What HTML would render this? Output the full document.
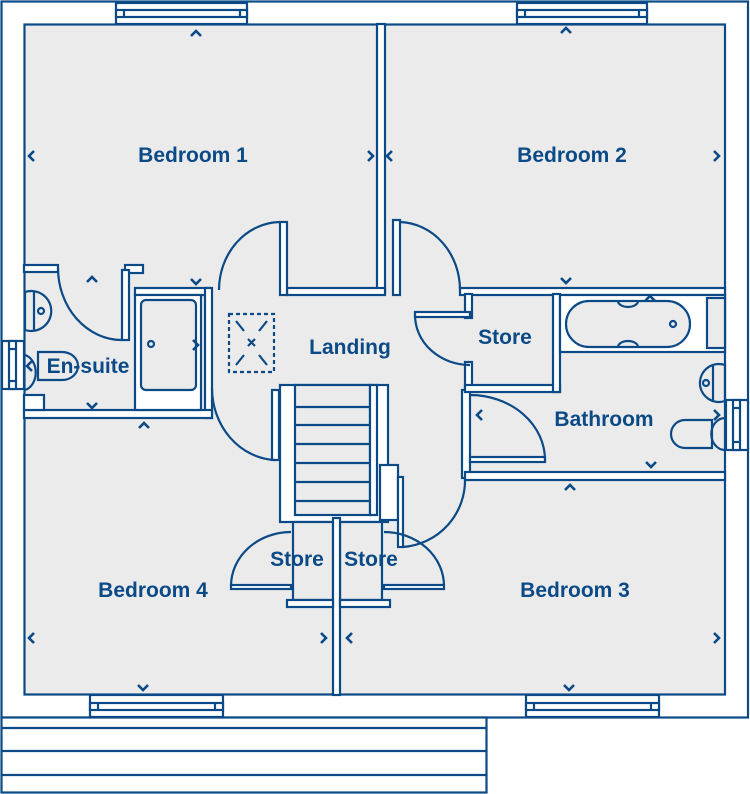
<!DOCTYPE html>
<html><head><meta charset="utf-8"><style>
html,body{margin:0;padding:0;background:#fff}
svg{display:block}
text{font-family:"Liberation Sans",sans-serif;font-weight:bold;font-size:21px;fill:#0b4a86;text-anchor:middle}
</style></head><body>
<svg width="750" height="794" viewBox="0 0 750 794" xmlns="http://www.w3.org/2000/svg">
<g stroke="#0b4a86" stroke-width="2.2" fill="#fff">
<rect x="1.5" y="1.5" width="746.5" height="716"/>
<rect x="24.5" y="24.5" width="700.5" height="670" fill="#ebebeb"/>
<rect x="1.5" y="717.5" width="485" height="75"/>
<line x1="1.5" y1="728" x2="486.5" y2="728"/>
<line x1="1.5" y1="751" x2="486.5" y2="751"/>
<line x1="1.5" y1="775" x2="486.5" y2="775"/>
<rect x="116" y="3" width="131" height="21"/><rect x="116" y="10" width="131" height="7"/><line x1="124" y1="10" x2="124" y2="17"/><line x1="240" y1="10" x2="240" y2="17"/>
<rect x="517" y="3" width="130" height="21"/><rect x="517" y="10" width="130" height="7"/><line x1="525" y1="10" x2="525" y2="17"/><line x1="639" y1="10" x2="639" y2="17"/>
<rect x="90" y="695" width="133" height="22"/><rect x="90" y="703" width="133" height="7"/><line x1="98" y1="703" x2="98" y2="710"/><line x1="215" y1="703" x2="215" y2="710"/>
<rect x="526" y="695" width="133" height="22"/><rect x="526" y="703" width="133" height="7"/><line x1="534" y1="703" x2="534" y2="710"/><line x1="651" y1="703" x2="651" y2="710"/>
<rect x="2" y="341" width="22" height="48"/><rect x="9" y="341" width="7" height="48"/><line x1="9" y1="349" x2="16" y2="349"/><line x1="9" y1="381" x2="16" y2="381"/>
<rect x="726" y="400" width="22" height="50"/><rect x="733" y="400" width="7" height="50"/><line x1="733" y1="408" x2="740" y2="408"/><line x1="733" y1="442" x2="740" y2="442"/>
<rect x="377" y="24" width="8" height="269"/>
<rect x="287" y="288" width="98" height="7"/>
<rect x="460" y="288" width="265" height="7"/>
<rect x="280" y="222" width="7" height="73"/>
<rect x="393" y="220" width="7" height="75"/>
<rect x="24" y="265" width="34" height="7"/>
<rect x="125" y="265" width="18" height="8"/>
<rect x="122" y="270" width="7" height="70"/>
<rect x="135" y="288" width="75" height="7"/>
<rect x="205" y="288" width="7" height="130"/>
<rect x="24" y="410" width="188" height="8"/>
<rect x="24" y="395" width="20" height="15"/>
<rect x="135" y="295" width="66" height="115"/>
<rect x="141" y="300" width="55" height="90" rx="5" fill="#ebebeb"/>
<rect x="272" y="390" width="7" height="70"/>
<rect x="280" y="385" width="108" height="137"/>
<rect x="295" y="385" width="75" height="130" fill="#ebebeb"/>
<rect x="370" y="385" width="7" height="130"/>
<rect x="380" y="465" width="18" height="55"/>
<rect x="293" y="522" width="40" height="78" fill="#ebebeb"/>
<rect x="340" y="522" width="42" height="78" fill="#ebebeb"/>
<rect x="333" y="518" width="7" height="177"/>
<rect x="287" y="600" width="46" height="7"/>
<rect x="340" y="600" width="50" height="7"/>
<rect x="231" y="585" width="60" height="4"/>
<rect x="384" y="585" width="60" height="4"/>
<rect x="398" y="477" width="5" height="70"/>
<rect x="462" y="390" width="8" height="88"/>
<rect x="465" y="294" width="7" height="24"/>
<rect x="465" y="362" width="7" height="28"/>
<rect x="465" y="385" width="95" height="7"/>
<rect x="553" y="294" width="7" height="98"/>
<rect x="415" y="312" width="55" height="5"/>
<rect x="470" y="457" width="75" height="5"/>
<rect x="465" y="472" width="260" height="8"/>
<rect x="560" y="295" width="165" height="57"/>
<rect x="707" y="298" width="18" height="50" fill="#ebebeb"/>
<rect x="566" y="301" width="124" height="46" rx="23" fill="#ebebeb"/>
</g>
<g stroke="#0b4a86" stroke-width="2.2" fill="none">
<line x1="296" y1="407" x2="370" y2="407"/><line x1="296" y1="425" x2="370" y2="425"/>
<line x1="296" y1="444" x2="370" y2="444"/><line x1="296" y1="463" x2="370" y2="463"/>
<line x1="296" y1="482" x2="370" y2="482"/><line x1="296" y1="501" x2="370" y2="501"/>
<path d="M219,290 A62,68 0 0 1 280,222"/>
<path d="M460,290 A62,68 0 0 0 400,222"/>
<path d="M58,268 A64,72 0 0 0 122,340"/>
<path d="M212,388 A66,72 0 0 0 275,460"/>
<path d="M231,586 A60,54 0 0 1 291,532"/>
<path d="M444,586 A60,54 0 0 0 384,532"/>
<path d="M465,478 A67,67 0 0 1 403,547"/>
<path d="M415,315 A55,50 0 0 0 470,365"/>
<path d="M545,460 A75,65 0 0 0 470,395"/>
<path d="M25,292 A20,20 0 1 1 25,330 Z"/>
<line x1="34" y1="292" x2="34" y2="330"/>
<circle cx="41" cy="311" r="3"/>
<path d="M25,355 A14,18 0 0 1 25,390"/>
<path d="M38,352 L62,352 A16,14 0 0 1 62,380 L38,380 Z"/>
<circle cx="151" cy="344" r="3"/>
<path d="M725,365 A19,19 0 1 0 725,401 Z"/>
<line x1="713" y1="366" x2="713" y2="400"/>
<circle cx="706" cy="383" r="3"/>
<path d="M712,420 L685,420 A14,14 0 0 0 685,448 L712,448 Z"/>
<path d="M725,418 A12,14 0 0 0 725,450"/>
<circle cx="673" cy="324" r="3"/>
<path d="M618,301 A10,6 0 0 0 638,301"/><path d="M618,347 A10,6 0 0 1 638,347"/>
<rect x="229" y="314" width="45" height="58" stroke-dasharray="4,3"/>
<path d="M236,321 L244,331 M267,321 L259,331 M236,365 L244,355 M267,365 L259,355 M248,339 L255,346 M255,339 L248,346"/>
</g>
<g stroke="#0b4a86" stroke-width="2.6" fill="none">
<path d="M191,36 l5,-5 l5,5"/><path d="M561,33 l5,-5 l5,5"/>
<path d="M34,151 l-5,5 l5,5"/><path d="M368,151 l5,5 l-5,5"/>
<path d="M392,151 l-5,5 l5,5"/><path d="M714,151 l5,5 l-5,5"/>
<path d="M191,279 l5,5 l5,-5"/><path d="M561,278 l5,5 l5,-5"/>
<path d="M87,282 l5,-5 l5,5"/><path d="M87,403 l5,5 l5,-5"/>
<path d="M32,361 l-5,5 l5,5"/><path d="M193,340 l5,5 l-5,5"/>
<path d="M139,428 l5,-5 l5,5"/><path d="M645,301 l5,-5 l5,5"/>
<path d="M482,410 l-5,5 l5,5"/><path d="M714,410 l5,5 l-5,5"/>
<path d="M646,462 l5,5 l5,-5"/><path d="M565,490 l5,-5 l5,5"/>
<path d="M34,633 l-5,5 l5,5"/><path d="M321,633 l5,5 l-5,5"/>
<path d="M352,633 l-5,5 l5,5"/><path d="M714,633 l5,5 l-5,5"/>
<path d="M138,685 l5,5 l5,-5"/><path d="M564,685 l5,5 l5,-5"/>
</g>
<text x="193" y="162">Bedroom 1</text>
<text x="572" y="162">Bedroom 2</text>
<text x="350" y="354">Landing</text>
<text x="505" y="344">Store</text>
<text x="88" y="373">En-suite</text>
<text x="604" y="426">Bathroom</text>
<text x="297" y="566">Store</text>
<text x="371" y="566">Store</text>
<text x="153" y="597">Bedroom 4</text>
<text x="575" y="597">Bedroom 3</text>
</svg>
</body></html>
